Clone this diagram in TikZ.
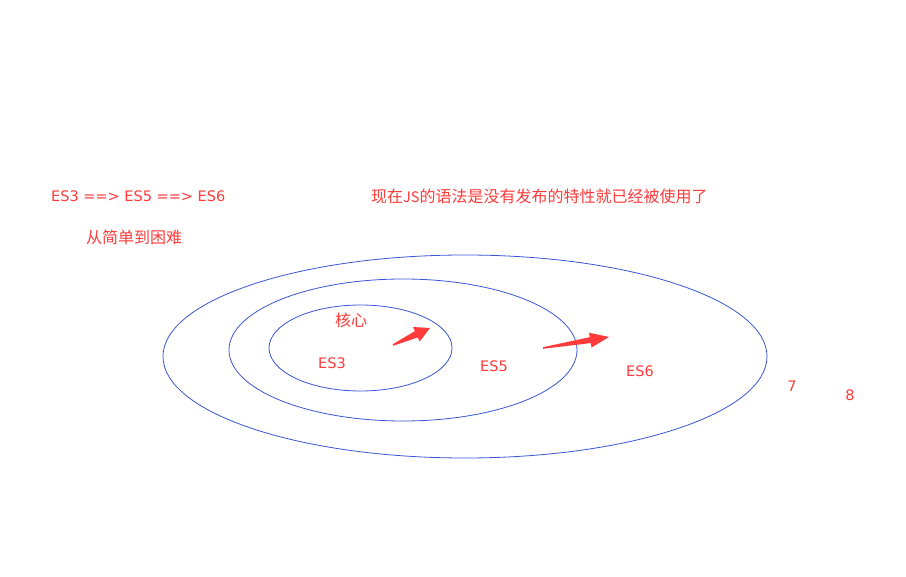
\documentclass[tikz,border=0pt]{standalone}
\usepackage{fontspec}
\setmainfont{DejaVu Sans}
\newfontfamily\cjk{Noto Sans CJK SC}
\usetikzlibrary{calc}
\definecolor{txtred}{HTML}{FF3B3B}
\definecolor{ringblue}{HTML}{3A55D6}
\tikzset{
  lbl/.style={text=txtred, font=\fontsize{14.5}{18}\selectfont, inner sep=0pt},
  cjklbl/.style={text=txtred, font=\fontsize{16}{18}\selectfont\cjk, inner sep=0pt},
  ring/.style={draw=ringblue, line width=0.8pt},
  fatarrow/.style={fill=txtred, draw=none}
}
\begin{document}
\begin{tikzpicture}[x=1pt,y=-1pt]
\useasboundingbox[fill=white] (0,0) rectangle (906,577);
% rings
\draw[ring] (465,356.5) ellipse [x radius=302, y radius=101.5];
\draw[ring] (403,350) ellipse [x radius=174, y radius=71];
\draw[ring] (360.5,348) ellipse [x radius=91.5, y radius=43];
% texts
\node[lbl, anchor=west] (t1) at (51,196) {ES3 ==> ES5 ==> ES6};
\node[cjklbl, anchor=west] (t2) at (86,237) {从简单到困难};
\node[cjklbl, anchor=west] (t3) at (371,196) {现在{\fontsize{14.5}{18}\selectfont JS}的语法是没有发布的特性就已经被使用了};
\node[cjklbl] (core) at (351,320) {核心};
\node[lbl] (es3) at (332,363) {ES3};
\node[lbl] (es5) at (494,366) {ES5};
\node[lbl] (es6) at (640,371) {ES6};
\node[lbl] (n7) at (792,386) {7};
\node[lbl] (n8) at (850,395) {8};
% arrows
\coordinate (a1) at (393,345);
\coordinate (b1) at (430,328);
\coordinate (c1) at ($(b1)!15pt!(a1)$);
\fill[fatarrow] ($(a1)!0.8pt!90:(b1)$) -- ($(c1)!3.5pt!90:(b1)$) -- ($(c1)!8pt!90:(b1)$) -- (b1)
  -- ($(c1)!8pt!-90:(b1)$) -- ($(c1)!3.5pt!-90:(b1)$) -- ($(a1)!0.8pt!-90:(b1)$) -- cycle;
\coordinate (a2) at (543,348);
\coordinate (b2) at (609,337);
\coordinate (c2) at ($(b2)!19pt!(a2)$);
\fill[fatarrow] ($(a2)!0.8pt!90:(b2)$) -- ($(c2)!3pt!90:(b2)$) -- ($(c2)!7.5pt!90:(b2)$) -- (b2)
  -- ($(c2)!7.5pt!-90:(b2)$) -- ($(c2)!3pt!-90:(b2)$) -- ($(a2)!0.8pt!-90:(b2)$) -- cycle;
\end{tikzpicture}
\end{document}
